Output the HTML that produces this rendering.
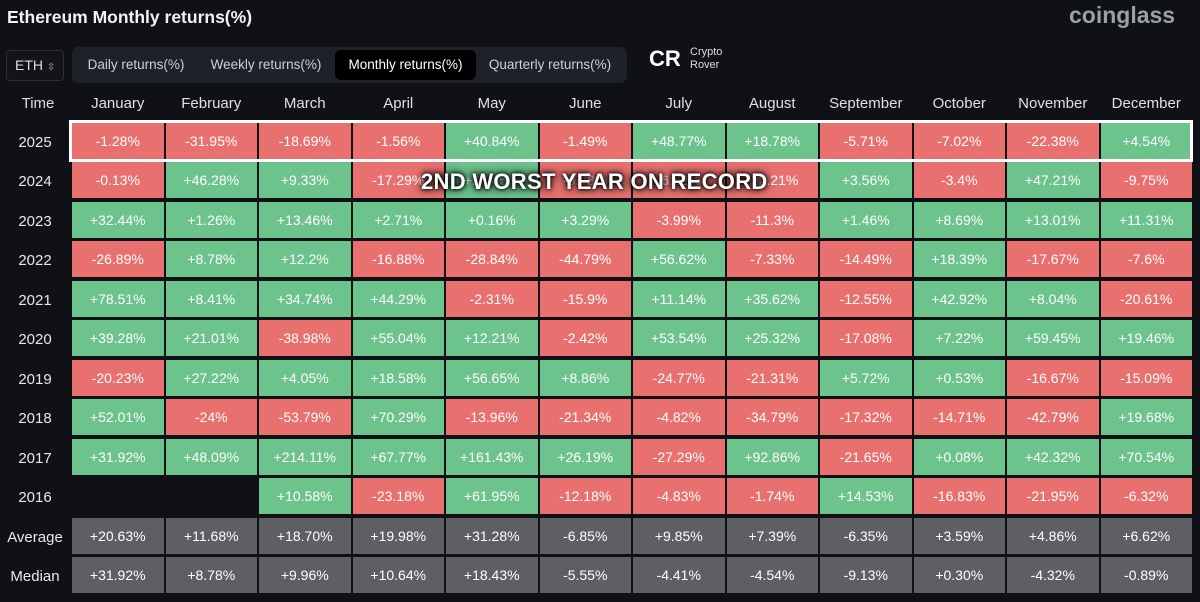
<!DOCTYPE html>
<html><head><meta charset="utf-8">
<style>
body{margin:0;width:1200px;height:602px;background:#0f1116;overflow:hidden;font-family:"Liberation Sans",sans-serif;position:relative;color:#e6e6e6}
.abs{position:absolute}
.cell{position:absolute;height:36px;line-height:37px;text-align:center;font-size:14px;color:#fff}
.hdr{position:absolute;top:90px;height:28px;line-height:28px;text-align:center;font-size:15px;color:#e0e0e0}
.yr{position:absolute;left:0;width:70px;text-align:center;font-size:15px;color:#e8e8e8;height:36px;line-height:36px;padding-top:2px}
.tab{position:absolute;top:50px;height:30px;line-height:30px;font-size:13.5px;color:#cfd0d4;text-align:center}
</style></head><body>
<div class="abs" style="left:7px;top:7px;font-size:17.5px;font-weight:bold;color:#f2f2f2">Ethereum Monthly returns(%)</div>
<div class="abs" style="left:1069px;top:2px;font-size:23px;font-weight:bold;color:#9c9fa6">coinglass</div>
<div class="abs" style="left:6px;top:50px;width:56px;height:29px;border:1px solid #2c2f36;border-radius:4px;background:#121419;font-size:14px;line-height:29px;text-indent:8px;color:#ddd">ETH <span style="font-size:10px;color:#aaa">⇳</span></div>
<div class="abs" style="left:72px;top:47px;width:555px;height:36px;border-radius:7px;background:#1f2128"></div>
<div class="tab" style="left:76px;width:120px">Daily returns(%)</div>
<div class="tab" style="left:200px;width:132px">Weekly returns(%)</div>
<div class="tab" style="left:335px;width:141px;background:#000;border-radius:6px;color:#fff">Monthly returns(%)</div>
<div class="tab" style="left:480px;width:140px">Quarterly returns(%)</div>
<div class="abs" style="left:649px;top:46px;font-size:22px;font-weight:bold;color:#fff">CR</div>
<div class="abs" style="left:690px;top:46px;font-size:11px;line-height:13px;color:#ddd">Crypto<br>Rover</div>
<div class="hdr" style="left:0;width:76px">Time</div>
<div id="t"></div>
<div class="abs" style="left:69px;top:120px;width:1118px;height:36px;border:3px solid #fff"></div>
<div class="abs" style="left:421px;top:169px;font-size:22px;font-weight:bold;color:#fff;text-shadow:0 0 3px #000,0 0 6px #000,0 0 10px #000;letter-spacing:0.3px">2ND WORST YEAR ON RECORD</div>
<script>
const months=["January","February","March","April","May","June","July","August","September","October","November","December"];
const years=["2025","2024","2023","2022","2021","2020","2019","2018","2017","2016"];
const r2025=[-1.28,-31.95,-18.69,-1.56,40.84,-1.49,48.77,18.78,-5.71,-7.02,-22.38,4.54];
const r2024=[-0.13,46.28,9.33,-17.29,26.45,-9.78,-6.82,-22.21,3.56,-3.4,47.21,-9.75];
const r2023=[32.44,1.26,13.46,2.71,0.16,3.29,-3.99,-11.3,1.46,8.69,13.01,11.31];
const r2022=[-26.89,8.78,12.2,-16.88,-28.84,-44.79,56.62,-7.33,-14.49,18.39,-17.67,-7.6];
const r2021=[78.51,8.41,34.74,44.29,-2.31,-15.9,11.14,35.62,-12.55,42.92,8.04,-20.61];
const r2020=[39.28,21.01,-38.98,55.04,12.21,-2.42,53.54,25.32,-17.08,7.22,59.45,19.46];
const r2019=[-20.23,27.22,4.05,18.58,56.65,8.86,-24.77,-21.31,5.72,0.53,-16.67,-15.09];
const r2018=[52.01,-24,-53.79,70.29,-13.96,-21.34,-4.82,-34.79,-17.32,-14.71,-42.79,19.68];
const r2017=[31.92,48.09,214.11,67.77,161.43,26.19,-27.29,92.86,-21.65,0.08,42.32,70.54];
const r2016=[null,null,10.58,-23.18,61.95,-12.18,-4.83,-1.74,14.53,-16.83,-21.95,-6.32];
const average=["+20.63%","+11.68%","+18.70%","+19.98%","+31.28%","-6.85%","+9.85%","+7.39%","-6.35%","+3.59%","+4.86%","+6.62%"];
const median=["+31.92%","+8.78%","+9.96%","+10.64%","+18.43%","-5.55%","-4.41%","-4.54%","-9.13%","+0.30%","-4.32%","-0.89%"];
const rows=[r2025,r2024,r2023,r2022,r2021,r2020,r2019,r2018,r2017,r2016];
const t=document.getElementById('t');
const X0=72,CW=93.5,Y0=123,RH=39.45;
const colX=i=>X0+i*CW, rowY=j=>Y0+j*RH;
months.forEach((m,i)=>{const d=document.createElement('div');d.className='hdr';


d.style.left=colX(i)+'px';d.style.width=(CW-2)+'px';d.textContent=m;t.appendChild(d);});
function yrLabel(txt,j){const d=document.createElement('div');d.className='yr';


d.style.top=rowY(j)+'px';d.textContent=txt;t.appendChild(d);}
function cell(txt,bg,i,j){const d=document.createElement('div');d.className='cell';


d.style.left=colX(i)+'px';d.style.width=(CW-2)+'px';d.style.top=rowY(j)+'px';d.style.background=bg;d.textContent=txt;t.appendChild(d);}
rows.forEach((r,j)=>{yrLabel(years[j],j);r.forEach((v,i)=>{if(v===null)return;
cell((v>=0?'+':'')+v+'%',v>=0?'#6cc38b':'#e8716f',i,j);});});
yrLabel('Average',10);yrLabel('Median',11);
average.forEach((v,i)=>cell(v,'#5e5f62',i,10));
median.forEach((v,i)=>cell(v,'#5e5f62',i,11));
</script>
</body></html>
